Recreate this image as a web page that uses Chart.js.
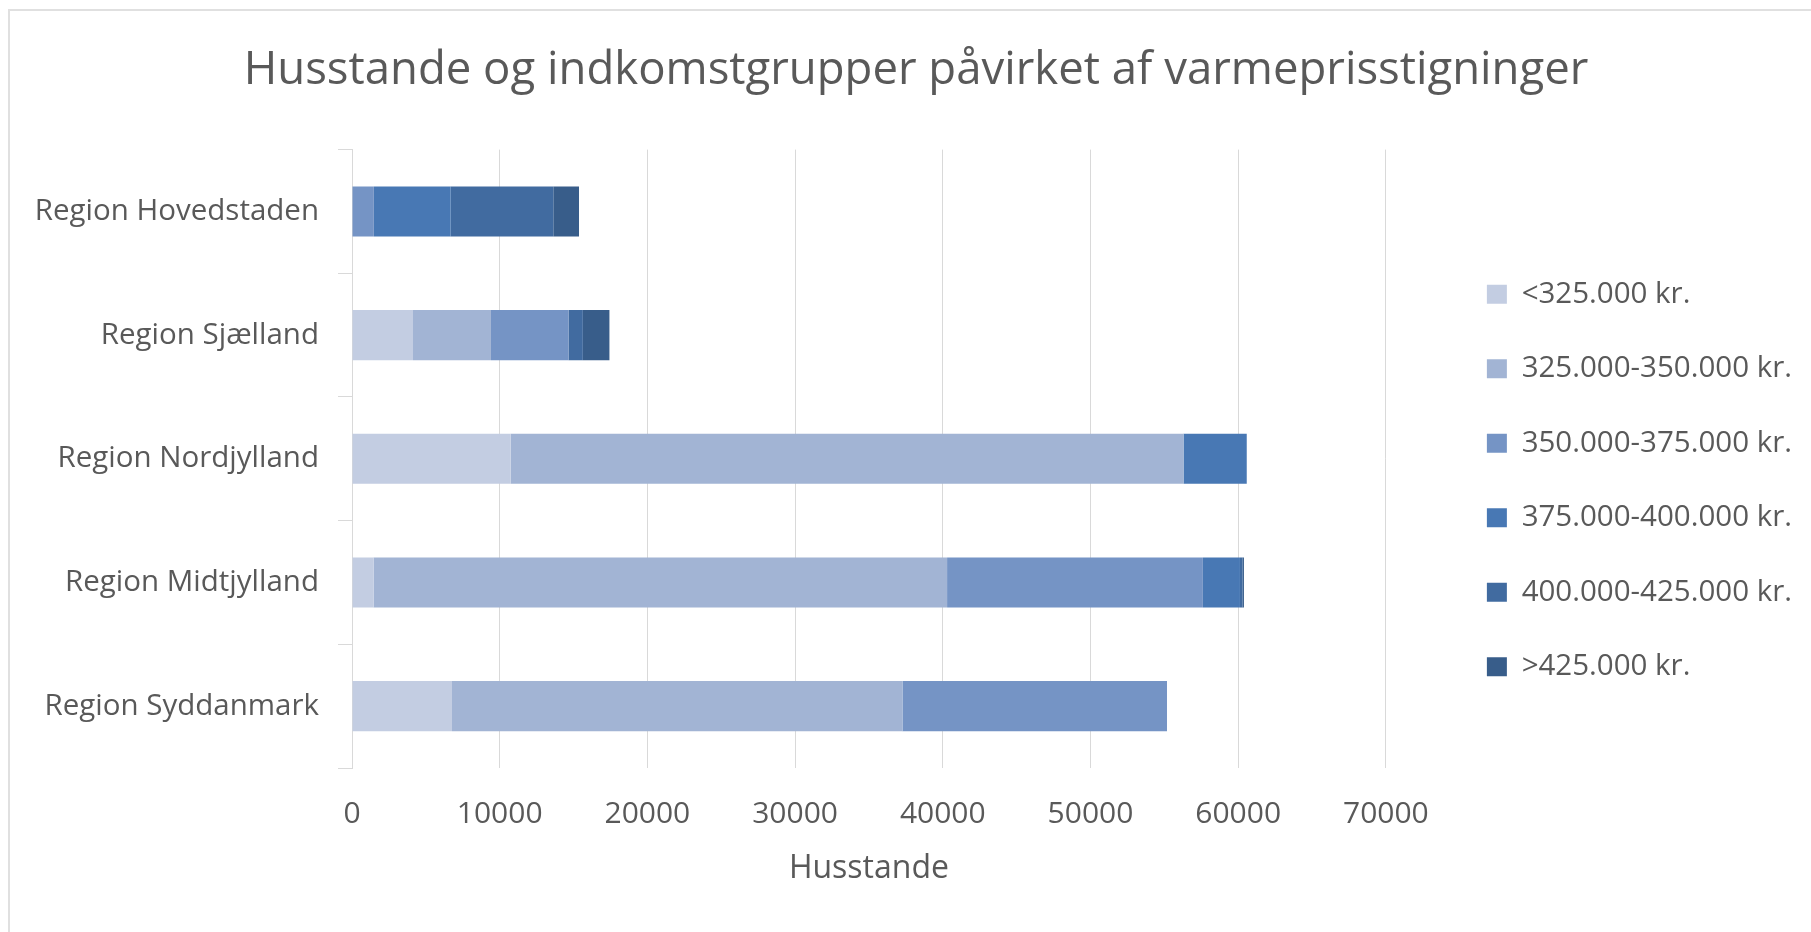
<!DOCTYPE html>
<html>
<head>
<meta charset="utf-8">
<script src="https://cdn.jsdelivr.net/npm/chart.js@4.4.1/dist/chart.umd.min.js"></script>
<style>
  html, body { margin: 0; padding: 0; background: #fff; overflow: hidden; }
  #frame { position: absolute; left: 8px; top: 9px; width: 2000px; height: 2000px;
           border-top: 2px solid #e0e0e0; border-left: 2px solid #e0e0e0; }
  #wrap { position: absolute; left: 0; top: 0; width: 1811px; height: 932px; }
</style>
</head>
<body>
<div id="frame"></div>
<div id="wrap"><canvas id="myChart"></canvas></div>
<script>
const regions = ['Region Hovedstaden', 'Region Sjælland', 'Region Nordjylland', 'Region Midtjylland', 'Region Syddanmark']

const groupNames = ['<325.000 kr.', '325.000-350.000 kr.', '350.000-375.000 kr.', '375.000-400.000 kr.', '400.000-425.000 kr.', '>425.000 kr.']
const groupColors = ['#c3cde2', '#a2b4d4', '#7594c5', '#4878b4', '#416ba0', '#385d8a']

// husstande pr. indkomstgruppe, samme raekkefoelge som regions
const under325 = [0, 4130, 10740, 1460, 6770]
const from325to350 = [0, 5280, 45560, 38830, 30500]
const from350to375 = [1480, 5250, 0, 17320, 17910]
const from375to400 = [5200, 0, 4280, 2510, 0]
const from400to425 = [6950, 970, 0, 180, 0]
const over425 = [1740, 1800, 0, 90, 0]

const xTicks = [0, 10000, 20000, 30000, 40000, 50000, 60000, 70000]

const seriesValues = [under325, from325to350, from350to375, from375to400, from400to425, over425]

const textColor = '#595959'
const gridColor = '#d9d9d9'
const fontFamily = "'Open Sans', 'Noto Sans', sans-serif"

const datasets = seriesValues.map((values, i) => ({
  label: groupNames[i],
  data: values,
  backgroundColor: groupColors[i],
  borderWidth: 0,
  barPercentage: 0.81,
  categoryPercentage: 0.5,
}))

const config = {
  type: 'bar',
  data: { labels: regions, datasets: datasets },
  options: {
    indexAxis: 'y',
    responsive: true,
    maintainAspectRatio: false,
    animation: false,
    layout: { padding: { left: 30, top: 29, right: 9, bottom: 0 } },
    plugins: {
      title: {
        display: true,
        text: 'Husstande og indkomstgrupper påvirket af varmeprisstigninger',
        color: textColor,
        font: { family: fontFamily, size: 45.5, weight: 'normal' },
        padding: { top: 15, bottom: 51 },
      },
      legend: {
        position: 'right',
        align: 'center',
        maxWidth: 500,
        labels: {
          color: textColor,
          font: { family: fontFamily, size: 29.5 },
          boxWidth: 20,
          boxHeight: 19,
          padding: 45,
        },
      },
      tooltip: { enabled: false },
    },
    scales: {
      x: {
        stacked: true,
        min: 0,
        max: 70000,
        afterBuildTicks: (scale) => { scale.ticks = xTicks.map(v => ({ value: v })) },
        afterFit: (scale) => { scale.height = 164 },
        border: { display: false },
        grid: { color: gridColor, lineWidth: 1, drawTicks: false },
        ticks: {
          color: textColor,
          font: { family: fontFamily, size: 30 },
          padding: 28,
          maxRotation: 0,
          callback: (value) => String(value),
        },
        title: {
          display: true,
          text: 'Husstande',
          color: textColor,
          font: { family: fontFamily, size: 32 },
          padding: { top: 0, bottom: 44 },
        },
      },
      y: {
        stacked: true,
        afterFit: (scale) => { scale.width = 322 },
        border: { display: true, color: gridColor, width: 1 },
        grid: { offset: true, drawOnChartArea: false, color: gridColor, tickLength: 14 },
        ticks: {
          color: textColor,
          font: { family: fontFamily, size: 29.5 },
          padding: 19,
        },
      },
      pad: {
        position: 'right',
        type: 'linear',
        display: true,
        afterFit: (scale) => { scale.width = 56 },
        border: { display: false },
        grid: { display: false },
        ticks: { display: false },
      },
    },
  },
}

const myChart = new Chart(document.getElementById('myChart'), config)
</script>
</body>
</html>
